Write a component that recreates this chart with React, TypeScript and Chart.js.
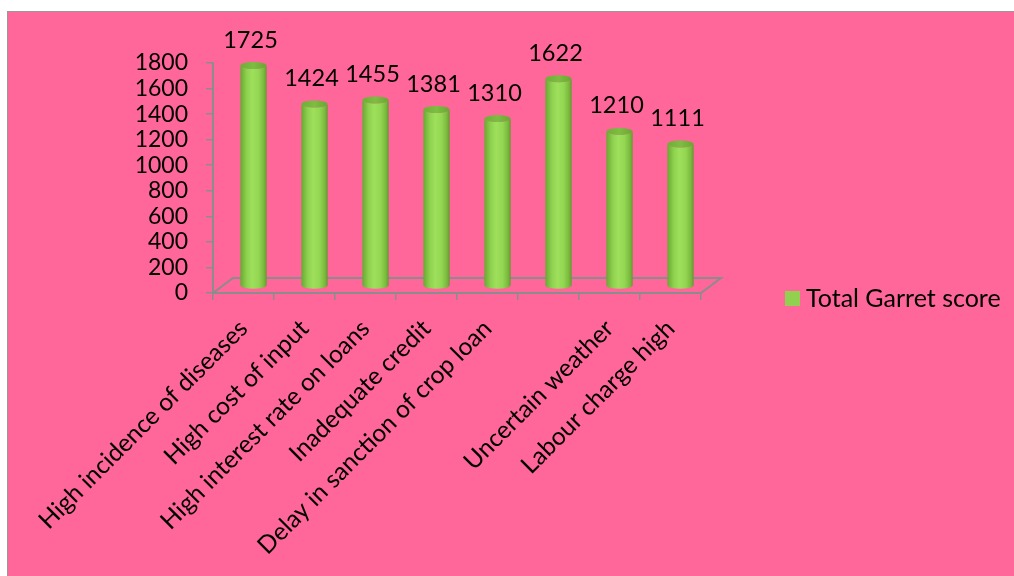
import React, { useEffect, useRef } from "react";
import { Chart, registerables } from "chart.js";

Chart.register(...registerables);

const categories: string[] = [
  "High incidence of diseases",
  "High cost of input",
  "High interest rate on loans",
  "Inadequate credit",
  "Delay in sanction of crop loan",
  "",
  "Uncertain weather",
  "Labour charge high",
];
const garretScores: number[] = [1725, 1424, 1455, 1381, 1310, 1622, 1210, 1111];
const seriesLabel = "Total Garret score";
const yTicksMin = 0;
const yTicksMax = 1800;
const yTicksStep = 200;

const FONT = "Lato, 'Noto Sans', sans-serif";
const GREY = "#8c8c8c";
const BAR_DX = 10;
const BAR_DY = -7;
const FLOOR_DX = 20;
const FLOOR_DY = -15;

const cylinderPlugin = {
  id: "cylinders",
  beforeDatasetsDraw(chart: any) {
    const ctx = chart.ctx as CanvasRenderingContext2D;
    const { left, right, bottom } = chart.chartArea;
    ctx.save();
    ctx.strokeStyle = GREY;
    ctx.lineWidth = 2;
    ctx.beginPath();
    ctx.moveTo(left, bottom);
    ctx.lineTo(left + FLOOR_DX, bottom + FLOOR_DY);
    ctx.lineTo(right + FLOOR_DX, bottom + FLOOR_DY);
    ctx.lineTo(right, bottom);
    ctx.stroke();
    ctx.restore();
  },
  afterDatasetsDraw(chart: any) {
    const ctx = chart.ctx as CanvasRenderingContext2D;
    const meta = chart.getDatasetMeta(0);
    const values = chart.data.datasets[0].data as number[];
    ctx.save();
    meta.data.forEach((el: any, i: number) => {
      const { x, y, base, width } = el.getProps(["x", "y", "base", "width"], true);
      const cx = x + BAR_DX;
      const top = y + BAR_DY;
      const bot = base + BAR_DY;
      const rx = width / 2;
      const ry = 3.5;
      const g = ctx.createLinearGradient(cx - rx, 0, cx + rx, 0);
      g.addColorStop(0, "#6aa832");
      g.addColorStop(0.25, "#8fd24f");
      g.addColorStop(0.45, "#9ee05c");
      g.addColorStop(0.7, "#93d652");
      g.addColorStop(0.9, "#79b83c");
      g.addColorStop(1, "#5f9a2c");
      ctx.beginPath();
      ctx.moveTo(cx - rx, top);
      ctx.lineTo(cx - rx, bot);
      ctx.ellipse(cx, bot, rx, ry, 0, Math.PI, 0, true);
      ctx.lineTo(cx + rx, top);
      ctx.ellipse(cx, top, rx, ry, 0, 0, Math.PI, false);
      ctx.closePath();
      ctx.fillStyle = g;
      ctx.fill();
      const tg = ctx.createLinearGradient(cx - rx, 0, cx + rx, 0);
      tg.addColorStop(0, "#6fae36");
      tg.addColorStop(0.5, "#7dbd42");
      tg.addColorStop(1, "#6aa632");
      ctx.beginPath();
      ctx.ellipse(cx, top, rx, ry, 0, 0, Math.PI * 2);
      ctx.fillStyle = tg;
      ctx.fill();
      ctx.fillStyle = "#000";
      ctx.font = `23.5px ${FONT}`;
      ctx.textAlign = "center";
      ctx.textBaseline = "alphabetic";
      ctx.fillText(String(values[i]), cx - 3, top - 18);
    });
    ctx.restore();
  },
  afterDraw(chart: any) {
    const ctx = chart.ctx as CanvasRenderingContext2D;
    const ds = chart.data.datasets[0];
    ctx.save();
    ctx.fillStyle = ds.legendColor;
    ctx.fillRect(777, 279, 15, 15);
    ctx.fillStyle = "#000";
    ctx.font = `25px ${FONT}`;
    ctx.textAlign = "left";
    ctx.textBaseline = "middle";
    ctx.fillText(ds.label, 798, 287);
    ctx.restore();
  },
};

export default function App() {
  const ref = useRef<HTMLCanvasElement>(null);
  useEffect(() => {
    if (!ref.current) return;
    const chart = new Chart(ref.current, {
      type: "bar",
      data: {
        labels: categories,
        datasets: [
          {
            label: seriesLabel,
            data: garretScores,
            backgroundColor: "rgba(0,0,0,0)",
            legendColor: "#92D050",
            barPercentage: 0.43,
            categoryPercentage: 1,
          } as any,
        ],
      },
      options: {
        responsive: false,
        animation: false,
        layout: { padding: { top: 51, right: 313, left: 0, bottom: 0 } },
        plugins: { legend: { display: false }, tooltip: { enabled: false } },
        scales: {
          x: {
            afterFit: (s: any) => {
              s.height = 283;
            },
            grid: {
              drawOnChartArea: false,
              drawTicks: true,
              tickLength: 7,
              color: GREY,
              lineWidth: 1.5,
              offset: true,
            },
            border: { display: true, color: GREY, width: 2 },
            ticks: {
              autoSkip: false,
              maxRotation: 45,
              minRotation: 45,
              padding: 14,
              color: "#000",
              font: { family: FONT, size: 24.5 },
            },
          },
          y: {
            min: yTicksMin,
            max: yTicksMax,
            afterFit: (s: any) => {
              s.width = 205;
            },
            grid: {
              drawOnChartArea: false,
              drawTicks: true,
              tickLength: 7,
              color: GREY,
              lineWidth: 1.5,
            },
            border: { display: true, color: GREY, width: 2 },
            ticks: {
              stepSize: yTicksStep,
              autoSkip: false,
              padding: 18,
              color: "#000",
              font: { family: FONT, size: 23 },
              callback: (v: any) => String(v),
            },
          },
        },
      },
      plugins: [cylinderPlugin],
    });
    return () => chart.destroy();
  }, []);
  return (
    <div
      style={{
        position: "fixed",
        left: 7,
        top: 11,
        width: 1006,
        height: 564,
        background: "#FF6699",
        borderLeft: "1px solid #999",
        borderTop: "1px solid #999",
      }}
    >
      <canvas ref={ref} width={1006} height={564} style={{ display: "block" }} />
    </div>
  );
}
